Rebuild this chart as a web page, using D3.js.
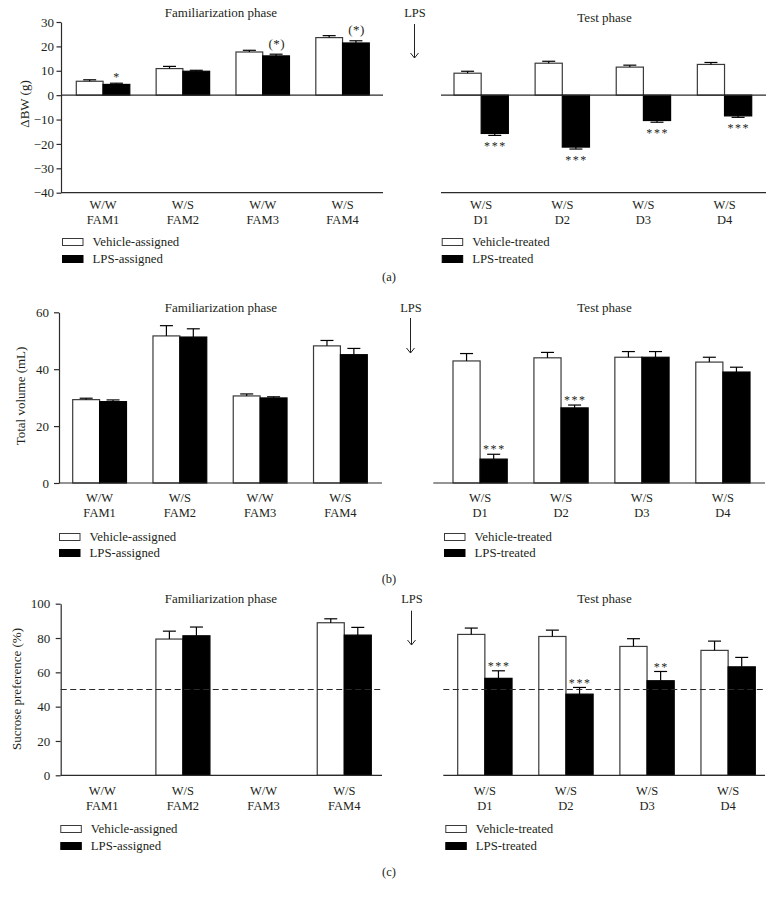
<!DOCTYPE html>
<html><head><meta charset="utf-8">
<script src="https://cdn.jsdelivr.net/npm/d3@7"></script>
<style>
body{margin:0;background:#fff}
svg{display:block}
text{font-family:"Liberation Serif","Times New Roman",serif;fill:#231f20}
</style>
</head><body>
<svg id="chart" width="778" height="898"></svg>
<script>
// ---------------- DATA ----------------
const famGroups = ["FAM1", "FAM2", "FAM3", "FAM4"];
const famPairs = ["W/W", "W/S", "W/W", "W/S"];
const testGroups = ["D1", "D2", "D3", "D4"];
const testPairs = ["W/S", "W/S", "W/S", "W/S"];
const famLegend = ["Vehicle-assigned", "LPS-assigned"];
const testLegend = ["Vehicle-treated", "LPS-treated"];

// (a) body weight change (g)
const bwTicks = [30, 20, 10, 0, -10, -20, -30, -40];
const bwFamVehicle = [5.7, 10.9, 17.7, 23.6];
const bwFamVehicleErr = [0.6, 0.9, 0.7, 0.8];
const bwFamLPS = [4.4, 9.8, 16.1, 21.4];
const bwFamLPSErr = [0.5, 0.4, 0.7, 0.9];
const bwFamSig = ["*", "", "(*)", "(*)"];
const bwTestVehicle = [9.0, 13.1, 11.5, 12.6];
const bwTestVehicleErr = [0.8, 0.8, 0.8, 0.8];
const bwTestLPS = [-15.7, -21.3, -10.4, -8.5];
const bwTestLPSErr = [0.8, 0.8, 0.7, 0.6];
const bwTestSig = ["***", "***", "***", "***"];

// (b) total volume (mL)
const volTicks = [0, 20, 40, 60];
const volFamVehicle = [29.3, 51.7, 30.6, 48.2];
const volFamVehicleErr = [0.5, 3.6, 0.7, 1.9];
const volFamLPS = [28.6, 51.3, 29.9, 45.1];
const volFamLPSErr = [0.6, 2.9, 0.4, 2.2];
const volFamSig = ["", "", "", ""];
const volTestVehicle = [42.9, 44.0, 44.2, 42.5];
const volTestVehicleErr = [2.6, 1.9, 2.0, 1.7];
const volTestLPS = [8.4, 26.4, 44.2, 39.0];
const volTestLPSErr = [1.7, 1.0, 2.0, 1.7];
const volTestSig = ["***", "***", "", ""];

// (c) sucrose preference (%)
const sucTicks = [0, 20, 40, 60, 80, 100];
const sucChance = 50;
const sucFamVehicle = [null, 79.4, null, 88.9];
const sucFamVehicleErr = [null, 4.6, null, 2.3];
const sucFamLPS = [null, 81.3, null, 81.7];
const sucFamLPSErr = [null, 5.1, null, 4.5];
const sucFamSig = ["", "", "", ""];
const sucTestVehicle = [82.1, 80.9, 75.1, 72.8];
const sucTestVehicleErr = [3.7, 3.7, 4.5, 5.4];
const sucTestLPS = [56.5, 47.3, 55.1, 63.2];
const sucTestLPSErr = [4.4, 3.9, 5.4, 5.5];
const sucTestSig = ["***", "***", "**", ""];

// ---------------- LAYOUT ----------------
const FONT = '"Liberation Serif","Times New Roman",serif';
const INK = "#231f20";
const svg = d3.select("#chart");

const panels = [
  {
    letter: "(a)", yLabel: "ΔBW (g)", domain: [-40, 30], ticks: bwTicks,
    yTop: 22, yBot: 192.7, axisX: 61, leftEnd: 383, rightStart: 441, rightEnd: 766,
    leftBars: [76.3, 369.3], rightBars: [454, 751.7],
    tickSize: 4.5, tickPad: 2.5, yLabelX: 24, yLabelY: 104,
    titleFamY: 12, titleTestY: 17, lpsX: 415, lpsY: 13, arrowTop: 24, arrowBot: 58,
    catY: [205, 219.5], legY: [242, 259], letterY: 277,
    legLeftX: 62, legRightX: 441.7,
    fam: { veh: bwFamVehicle, vehErr: bwFamVehicleErr, lps: bwFamLPS, lpsErr: bwFamLPSErr, sig: bwFamSig },
    test: { veh: bwTestVehicle, vehErr: bwTestVehicleErr, lps: bwTestLPS, lpsErr: bwTestLPSErr, sig: bwTestSig },
    sigOffFam: s => s.includes("(") ? 6.5 : 2, sigOffTest: () => 14.5
  },
  {
    letter: "(b)", yLabel: "Total volume (mL)", domain: [0, 60], ticks: volTicks,
    yTop: 312.3, yBot: 483, axisX: 59, leftEnd: 382, rightStart: 433.3, rightEnd: 765,
    leftBars: [72.7, 367.3], rightBars: [453, 750],
    tickSize: 5, tickPad: 5, yLabelX: 20, yLabelY: 396,
    titleFamY: 307.5, titleTestY: 307.5, lpsX: 411, lpsY: 308, arrowTop: 318, arrowBot: 353,
    catY: [498.3, 513.3], legY: [537, 553], letterY: 579,
    legLeftX: 59, legRightX: 444,
    fam: { veh: volFamVehicle, vehErr: volFamVehicleErr, lps: volFamLPS, lpsErr: volFamLPSErr, sig: volFamSig },
    test: { veh: volTestVehicle, vehErr: volTestVehicleErr, lps: volTestLPS, lpsErr: volTestLPSErr, sig: volTestSig },
    sigOffFam: () => 1.5, sigOffTest: () => 1.5
  },
  {
    letter: "(c)", yLabel: "Sucrose preference (%)", domain: [0, 100], ticks: sucTicks,
    yTop: 603.7, yBot: 775.3, axisX: 60.7, leftEnd: 382, rightStart: 443.3, rightEnd: 765,
    leftBars: [75.2, 371.3], rightBars: [457.7, 755.3],
    tickSize: 5, tickPad: 5.5, yLabelX: 16.7, yLabelY: 689,
    titleFamY: 598.5, titleTestY: 598.5, lpsX: 412, lpsY: 599, arrowTop: 610.7, arrowBot: 645,
    catY: [790.5, 805.5], legY: [829, 846], letterY: 871.7,
    legLeftX: 60.3, legRightX: 445.3, chance: sucChance,
    fam: { veh: sucFamVehicle, vehErr: sucFamVehicleErr, lps: sucFamLPS, lpsErr: sucFamLPSErr, sig: sucFamSig },
    test: { veh: sucTestVehicle, vehErr: sucTestVehicleErr, lps: sucTestLPS, lpsErr: sucTestLPSErr, sig: sucTestSig },
    sigOffFam: () => 0.5, sigOffTest: () => 0.5
  }
];

function txt(g, x, y, s, size, anchor) {
  return g.append("text").attr("x", x).attr("y", y).attr("font-size", size)
    .attr("text-anchor", anchor || "middle").attr("dominant-baseline", "central")
    .attr("font-family", FONT).attr("fill", INK).text(s);
}

function hline(g, x1, x2, y, dash) {
  const l = g.append("line").attr("x1", x1).attr("x2", x2).attr("y1", y).attr("y2", y)
    .attr("stroke", "#2b2b2b").attr("stroke-width", 1.2);
  if (dash) l.attr("stroke-dasharray", dash);
  return l;
}

function drawHalf(g, p, y, groups, pairs, d, barRange, sigOff, legend, legX) {
  const rows = groups.map((k, i) => ({
    k, pair: pairs[i],
    bars: [
      { s: "veh", v: d.veh[i], e: d.vehErr[i] },
      { s: "lps", v: d.lps[i], e: d.lpsErr[i] }
    ],
    sig: d.sig[i]
  }));
  const x0 = d3.scaleBand().domain(groups).range(barRange).paddingInner(0.33).paddingOuter(0);
  const x1 = d3.scaleBand().domain(["veh", "lps"]).range([0, x0.bandwidth()]);
  const fill = { veh: "#ffffff", lps: "#000000" };

  const grp = g.selectAll(null).data(rows).enter().append("g")
    .attr("transform", r => `translate(${x0(r.k)},0)`);

  const bar = grp.selectAll(null).data(r => r.bars.filter(b => b.v != null)).enter();
  bar.append("rect")
    .attr("x", b => x1(b.s))
    .attr("width", x1.bandwidth())
    .attr("y", b => Math.min(y(b.v), y(0)))
    .attr("height", b => Math.abs(y(b.v) - y(0)))
    .attr("fill", b => fill[b.s])
    .attr("stroke", b => b.s === "veh" ? "#3a3a3a" : "#000")
    .attr("stroke-width", 1.2);
  // error bars
  const errEnd = b => b.v >= 0 ? b.v + b.e : b.v - b.e;
  bar.append("line")
    .attr("x1", b => x1(b.s) + x1.bandwidth() / 2).attr("x2", b => x1(b.s) + x1.bandwidth() / 2)
    .attr("y1", b => y(b.v)).attr("y2", b => y(errEnd(b)))
    .attr("stroke", "#000").attr("stroke-width", 1.2);
  bar.append("line")
    .attr("x1", b => x1(b.s) + x1.bandwidth() / 2 - 6.5).attr("x2", b => x1(b.s) + x1.bandwidth() / 2 + 6.5)
    .attr("y1", b => y(errEnd(b))).attr("y2", b => y(errEnd(b)))
    .attr("stroke", "#000").attr("stroke-width", 1.2);

  // significance marks (over LPS bar)
  grp.filter(r => r.sig).append("text")
    .attr("x", x1("lps") + x1.bandwidth() / 2 + 0.7)
    .attr("y", r => {
      const b = r.bars[1];
      return b.v >= 0 ? y(b.v + b.e) - sigOff(r.sig) : y(b.v - b.e) + sigOff(r.sig);
    })
    .attr("text-anchor", "middle")
    .attr("font-family", FONT).attr("font-size", r => r.sig.includes("(") ? 13 : 12)
    .attr("letter-spacing", r => r.sig.includes("(") ? 0.5 : 1.6)
    .attr("fill", "#444")
    .text(r => r.sig);

  // category labels
  grp.append("text").attr("x", x0.bandwidth() / 2).attr("y", p.catY[0])
    .attr("text-anchor", "middle").attr("dominant-baseline", "central")
    .attr("font-family", FONT).attr("font-size", 12.5).attr("fill", INK).text(r => r.pair);
  grp.append("text").attr("x", x0.bandwidth() / 2).attr("y", p.catY[1])
    .attr("text-anchor", "middle").attr("dominant-baseline", "central")
    .attr("font-family", FONT).attr("font-size", 12.5).attr("fill", INK).text(r => r.k);

  // legend
  const lg = g.append("g");
  legend.forEach((name, i) => {
    const cy = p.legY[i];
    lg.append("rect").attr("x", legX + 0.5).attr("y", cy - 3.5).attr("width", 20.5).attr("height", 7)
      .attr("fill", i === 0 ? "#fff" : "#000").attr("stroke", i === 0 ? "#3a3a3a" : "#000").attr("stroke-width", 1);
    txt(lg, legX + 30.5, cy, name, 12.8, "start");
  });
}

panels.forEach(p => {
  const g = svg.append("g");
  const y = d3.scaleLinear().domain(p.domain).range([p.yBot, p.yTop]);

  drawHalf(g, p, y, famGroups, famPairs, p.fam, p.leftBars, p.sigOffFam, famLegend, p.legLeftX);
  drawHalf(g, p, y, testGroups, testPairs, p.test, p.rightBars, p.sigOffTest, testLegend, p.legRightX);

  // chance line (c), drawn over the bars
  if (p.chance != null) {
    hline(g, p.axisX, p.leftEnd, y(p.chance), "6,3.5");
    hline(g, p.rightStart, p.rightEnd, y(p.chance), "6,3.5");
  }

  // zero line and bottom line
  hline(g, p.axisX, p.leftEnd, y(0));
  hline(g, p.rightStart, p.rightEnd, y(0));
  if (p.domain[0] < 0) {
    hline(g, p.axisX, p.leftEnd, y(p.domain[0]));
    hline(g, p.rightStart, p.rightEnd, y(p.domain[0]));
  }

  // y axis
  const ax = g.append("g").attr("transform", `translate(${p.axisX},0)`)
    .call(d3.axisLeft(y).tickValues(p.ticks).tickSize(p.tickSize).tickSizeOuter(0).tickPadding(p.tickPad));
  ax.attr("font-family", FONT).attr("font-size", 13);
  ax.selectAll("path,line").attr("stroke", "#2b2b2b").attr("stroke-width", 1.2);
  ax.selectAll("text").attr("fill", INK);

  // y label
  g.append("text").attr("transform", `translate(${p.yLabelX},${p.yLabelY}) rotate(-90)`)
    .attr("text-anchor", "middle").attr("dominant-baseline", "central")
    .attr("font-family", FONT).attr("font-size", 13).attr("fill", INK).text(p.yLabel);

  // titles
  txt(g, 221, p.titleFamY, "Familiarization phase", 13);
  txt(g, 604.5, p.titleTestY, "Test phase", 13);

  // LPS arrow
  txt(g, p.lpsX, p.lpsY, "LPS", 12.5);
  const ax0 = p.lpsX - 0.5;
  g.append("line").attr("x1", ax0).attr("x2", ax0).attr("y1", p.arrowTop).attr("y2", p.arrowBot)
    .attr("stroke", "#222").attr("stroke-width", 1);
  g.append("path").attr("d", `M${ax0 - 4},${p.arrowBot - 5} L${ax0},${p.arrowBot} L${ax0 + 4},${p.arrowBot - 5}`)
    .attr("fill", "none").attr("stroke", "#222").attr("stroke-width", 1);

  // panel letter
  txt(g, 389, p.letterY, p.letter, 12.5);
});
</script>
</body></html>
